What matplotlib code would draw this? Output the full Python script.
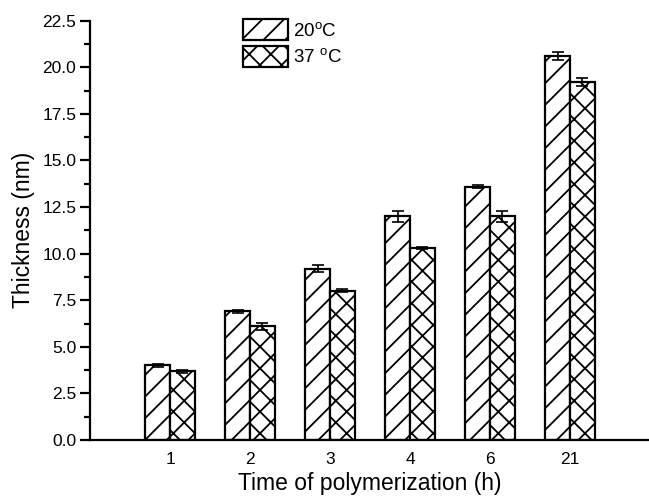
import numpy as np
import matplotlib
matplotlib.use("Agg")
from matplotlib import pyplot as plt
from matplotlib.ticker import MultipleLocator, FormatStrFormatter

# hatch spacing is tied to the dpi, so draw at 130 dpi and scale point sizes down
DPI = 130
s = 100 / DPI

plt.rcParams['font.family'] = ['Liberation Sans', 'DejaVu Sans']
plt.rcParams['mathtext.default'] = 'regular'
plt.rcParams['hatch.linewidth'] = 1.3 * s

times = ["1", "2", "3", "4", "6", "21"]
thick_20 = [4.0, 6.9, 9.2, 12.0, 13.6, 20.6]
err_20 = [0.08, 0.08, 0.2, 0.3, 0.08, 0.2]
thick_37 = [3.7, 6.1, 8.0, 10.3, 12.0, 19.2]
err_37 = [0.08, 0.2, 0.08, 0.05, 0.3, 0.2]

fig = plt.figure(figsize=(649 / DPI, 497 / DPI), dpi=DPI)
ax = fig.add_axes([0.1387, 0.1147, 0.863, 0.8437])

x = np.arange(1, len(times) + 1)
w = 0.31

ax.bar(x - w / 2, thick_20, w, color='white', edgecolor='black', linewidth=1.6 * s,
       hatch='//', label='20$^{o}$C')
ax.bar(x + w / 2, thick_37, w, color='white', edgecolor='black', linewidth=1.6 * s,
       hatch='xx', label='37 $^{o}$C')
ax.errorbar(x - w / 2, thick_20, yerr=err_20, fmt='none', ecolor='black',
            elinewidth=1.2 * s, capsize=4 * s, capthick=1.2 * s)
ax.errorbar(x + w / 2, thick_37, yerr=err_37, fmt='none', ecolor='black',
            elinewidth=1.2 * s, capsize=4 * s, capthick=1.2 * s)

ax.set_xlim(0, 7)
ax.set_ylim(0, 22.5)
ax.set_xticks(x)
ax.set_xticklabels(times)
ax.yaxis.set_major_locator(MultipleLocator(2.5))
ax.yaxis.set_minor_locator(MultipleLocator(1.25))
ax.yaxis.set_major_formatter(FormatStrFormatter('%.1f'))

ax.spines['top'].set_visible(False)
ax.spines['right'].set_visible(False)
ax.spines['left'].set_linewidth(1.6 * s)
ax.spines['bottom'].set_linewidth(1.6 * s)
ax.tick_params(axis='y', which='major', length=7 * s, width=1.6 * s,
               labelsize=12.5 * s, pad=3 * s, direction='out')
ax.tick_params(axis='y', which='minor', length=4 * s, width=1.6 * s, direction='out')
ax.tick_params(axis='x', which='both', length=0, labelsize=12.5 * s, pad=9 * s)

ax.set_xlabel("Time of polymerization (h)", fontsize=16.5 * s, labelpad=3 * s)
ax.set_ylabel("Thickness (nm)", fontsize=16.5 * s, labelpad=5 * s)

fig.legend(loc='upper left', bbox_to_anchor=(0.374, 0.962), frameon=False,
           fontsize=13.5 * s, handlelength=2.4, handleheight=1.35, labelspacing=0.3,
           handletextpad=0.3, borderpad=0, borderaxespad=0)

fig.savefig("out.png", dpi=DPI)
